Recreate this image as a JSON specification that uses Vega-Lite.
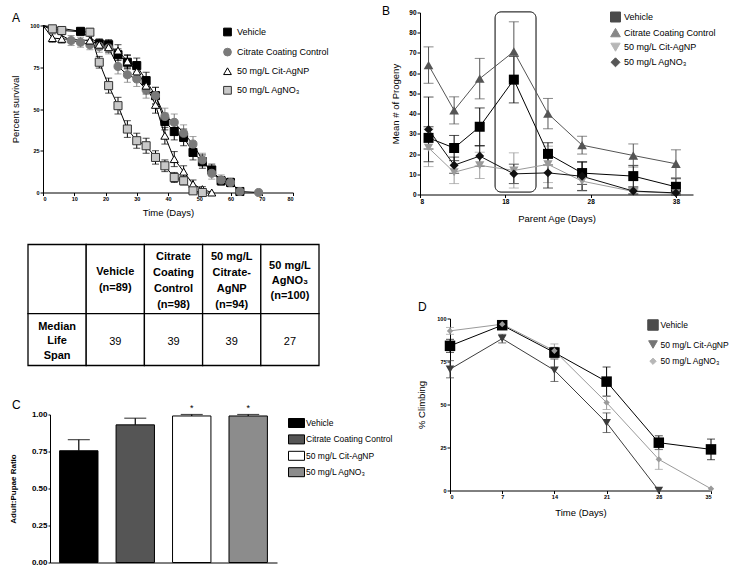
{
  "$schema": "https://vega.github.io/schema/vega-lite/v6.json",
  "background": "white",
  "padding": {"left": 9, "top": 4.5, "right": 0, "bottom": 0},
  "config": {
    "font": "Liberation Sans",
    "view": {"stroke": null},
    "axis": {"domainColor": "black", "tickColor": "black", "labelColor": "black", "titleColor": "black", "labelFont": "Liberation Sans", "titleFont": "Liberation Sans", "labelFontWeight": "bold", "labelFontSize": 5.5, "titleFontSize": 9.5, "titleFontWeight": "normal", "grid": false, "tickSize": 3, "labelPadding": 1, "domainWidth": 1, "tickWidth": 1},
    "legend": {"labelFont": "Liberation Sans", "labelColor": "black", "labelFontSize": 9, "padding": 0, "symbolStrokeWidth": 1},
    "title": {"font": "Liberation Sans", "fontSize": 12, "fontWeight": "normal", "anchor": "start", "frame": "group", "offset": 0, "color": "black"}
  },
  "datasets": {
    "surv": [
      {"s": "Vehicle", "d": 0, "v": 100, "e": 0},
      {"s": "Vehicle", "d": 12, "v": 96.5, "e": 2},
      {"s": "Vehicle", "d": 18, "v": 89, "e": 3},
      {"s": "Vehicle", "d": 21, "v": 88.5, "e": 3},
      {"s": "Vehicle", "d": 24, "v": 82.5, "e": 3.5},
      {"s": "Vehicle", "d": 27, "v": 78, "e": 4},
      {"s": "Vehicle", "d": 30, "v": 76, "e": 4.5},
      {"s": "Vehicle", "d": 33, "v": 67, "e": 5},
      {"s": "Vehicle", "d": 36, "v": 58, "e": 5},
      {"s": "Vehicle", "d": 39, "v": 42.5, "e": 5},
      {"s": "Vehicle", "d": 42, "v": 36.5, "e": 5},
      {"s": "Vehicle", "d": 45, "v": 33, "e": 5},
      {"s": "Vehicle", "d": 48, "v": 24, "e": 4.5},
      {"s": "Vehicle", "d": 51, "v": 18.5, "e": 4},
      {"s": "Vehicle", "d": 54, "v": 13.5, "e": 3.5},
      {"s": "Vehicle", "d": 57, "v": 7, "e": 2.5},
      {"s": "Vehicle", "d": 60, "v": 6, "e": 2.5},
      {"s": "Vehicle", "d": 63, "v": 0.6, "e": 0.5},
      {"s": "Citrate Coating Control", "d": 0, "v": 100, "e": 0},
      {"s": "Citrate Coating Control", "d": 9, "v": 91, "e": 3},
      {"s": "Citrate Coating Control", "d": 12, "v": 90, "e": 3},
      {"s": "Citrate Coating Control", "d": 15, "v": 88.5, "e": 3},
      {"s": "Citrate Coating Control", "d": 18, "v": 87.5, "e": 3.5},
      {"s": "Citrate Coating Control", "d": 21, "v": 86.5, "e": 3.5},
      {"s": "Citrate Coating Control", "d": 24, "v": 75.5, "e": 4.5},
      {"s": "Citrate Coating Control", "d": 27, "v": 70.5, "e": 4.5},
      {"s": "Citrate Coating Control", "d": 30, "v": 68, "e": 4.5},
      {"s": "Citrate Coating Control", "d": 33, "v": 61.5, "e": 5},
      {"s": "Citrate Coating Control", "d": 36, "v": 58, "e": 5},
      {"s": "Citrate Coating Control", "d": 39, "v": 45.5, "e": 5},
      {"s": "Citrate Coating Control", "d": 42, "v": 42, "e": 5},
      {"s": "Citrate Coating Control", "d": 45, "v": 35.5, "e": 5},
      {"s": "Citrate Coating Control", "d": 48, "v": 29, "e": 4.5},
      {"s": "Citrate Coating Control", "d": 51, "v": 19.5, "e": 4},
      {"s": "Citrate Coating Control", "d": 54, "v": 11.5, "e": 3.5},
      {"s": "Citrate Coating Control", "d": 57, "v": 7.5, "e": 3},
      {"s": "Citrate Coating Control", "d": 60, "v": 6, "e": 2.5},
      {"s": "Citrate Coating Control", "d": 63, "v": 0.6, "e": 0.5},
      {"s": "Citrate Coating Control", "d": 69, "v": 0, "e": 0},
      {"s": "50 mg/L Cit-AgNP", "d": 0, "v": 100, "e": 0},
      {"s": "50 mg/L Cit-AgNP", "d": 3, "v": 92.5, "e": 2.5},
      {"s": "50 mg/L Cit-AgNP", "d": 6, "v": 92, "e": 2.5},
      {"s": "50 mg/L Cit-AgNP", "d": 15, "v": 91, "e": 3},
      {"s": "50 mg/L Cit-AgNP", "d": 18, "v": 88.5, "e": 3},
      {"s": "50 mg/L Cit-AgNP", "d": 21, "v": 87, "e": 3},
      {"s": "50 mg/L Cit-AgNP", "d": 24, "v": 85, "e": 3.5},
      {"s": "50 mg/L Cit-AgNP", "d": 27, "v": 78.5, "e": 4},
      {"s": "50 mg/L Cit-AgNP", "d": 30, "v": 72.5, "e": 4.5},
      {"s": "50 mg/L Cit-AgNP", "d": 33, "v": 64, "e": 5},
      {"s": "50 mg/L Cit-AgNP", "d": 36, "v": 52.5, "e": 5},
      {"s": "50 mg/L Cit-AgNP", "d": 39, "v": 34, "e": 5},
      {"s": "50 mg/L Cit-AgNP", "d": 42, "v": 20, "e": 4.5},
      {"s": "50 mg/L Cit-AgNP", "d": 45, "v": 12.5, "e": 3.5},
      {"s": "50 mg/L Cit-AgNP", "d": 48, "v": 5, "e": 2.5},
      {"s": "50 mg/L Cit-AgNP", "d": 51, "v": 2, "e": 1.5},
      {"s": "50 mg/L Cit-AgNP", "d": 54, "v": 0, "e": 0},
      {"s": "50 mg/L AgNO₃", "d": 0, "v": 100, "e": 0},
      {"s": "50 mg/L AgNO₃", "d": 3, "v": 98, "e": 1.5},
      {"s": "50 mg/L AgNO₃", "d": 6, "v": 97, "e": 2},
      {"s": "50 mg/L AgNO₃", "d": 15, "v": 96, "e": 2},
      {"s": "50 mg/L AgNO₃", "d": 18, "v": 78, "e": 3.5},
      {"s": "50 mg/L AgNO₃", "d": 21, "v": 64, "e": 4.5},
      {"s": "50 mg/L AgNO₃", "d": 24, "v": 52, "e": 5},
      {"s": "50 mg/L AgNO₃", "d": 27, "v": 38, "e": 5},
      {"s": "50 mg/L AgNO₃", "d": 30, "v": 31, "e": 4.5},
      {"s": "50 mg/L AgNO₃", "d": 33, "v": 28, "e": 4.5},
      {"s": "50 mg/L AgNO₃", "d": 36, "v": 21, "e": 4},
      {"s": "50 mg/L AgNO₃", "d": 39, "v": 16, "e": 3.5},
      {"s": "50 mg/L AgNO₃", "d": 42, "v": 9, "e": 3},
      {"s": "50 mg/L AgNO₃", "d": 45, "v": 7, "e": 2.5},
      {"s": "50 mg/L AgNO₃", "d": 48, "v": 1, "e": 1},
      {"s": "50 mg/L AgNO₃", "d": 51, "v": 0, "e": 0}
    ],
    "progeny": [
      {"s": "Vehicle", "d": 9, "v": 28, "e": 5.5},
      {"s": "Vehicle", "d": 12, "v": 23, "e": 6.2},
      {"s": "Vehicle", "d": 15, "v": 33.5, "e": 9.3},
      {"s": "Vehicle", "d": 19, "v": 56.8, "e": 11.5},
      {"s": "Vehicle", "d": 23, "v": 20.1, "e": 5.5},
      {"s": "Vehicle", "d": 27, "v": 10.6, "e": 5.6},
      {"s": "Vehicle", "d": 33, "v": 9.1, "e": 5.3},
      {"s": "Vehicle", "d": 38, "v": 3.8, "e": 4},
      {"s": "Citrate Coating Control", "d": 9, "v": 64, "e": 9},
      {"s": "Citrate Coating Control", "d": 12, "v": 41.6, "e": 6.7},
      {"s": "Citrate Coating Control", "d": 15, "v": 57.3, "e": 10},
      {"s": "Citrate Coating Control", "d": 19, "v": 70.7, "e": 14.7},
      {"s": "Citrate Coating Control", "d": 23, "v": 40, "e": 7.5},
      {"s": "Citrate Coating Control", "d": 27, "v": 24.4, "e": 4.4},
      {"s": "Citrate Coating Control", "d": 33, "v": 19.3, "e": 5.7},
      {"s": "Citrate Coating Control", "d": 38, "v": 15.2, "e": 6.9},
      {"s": "50 mg/L Cit-AgNP", "d": 9, "v": 23.1, "e": 9.3},
      {"s": "50 mg/L Cit-AgNP", "d": 12, "v": 11, "e": 5.6},
      {"s": "50 mg/L Cit-AgNP", "d": 15, "v": 14.4, "e": 6.5},
      {"s": "50 mg/L Cit-AgNP", "d": 19, "v": 11.9, "e": 8.7},
      {"s": "50 mg/L Cit-AgNP", "d": 23, "v": 14.9, "e": 9},
      {"s": "50 mg/L Cit-AgNP", "d": 27, "v": 6.6, "e": 4.9},
      {"s": "50 mg/L Cit-AgNP", "d": 33, "v": 1.5, "e": 1},
      {"s": "50 mg/L Cit-AgNP", "d": 38, "v": 0.6, "e": 0.5},
      {"s": "50 mg/L AgNO₃", "d": 9, "v": 32.2, "e": 16},
      {"s": "50 mg/L AgNO₃", "d": 12, "v": 14.5, "e": 4},
      {"s": "50 mg/L AgNO₃", "d": 15, "v": 19, "e": 5},
      {"s": "50 mg/L AgNO₃", "d": 19, "v": 10.2, "e": 4.8},
      {"s": "50 mg/L AgNO₃", "d": 23, "v": 10.7, "e": 7.5},
      {"s": "50 mg/L AgNO₃", "d": 27, "v": 9, "e": 7},
      {"s": "50 mg/L AgNO₃", "d": 33, "v": 1.7, "e": 1.5},
      {"s": "50 mg/L AgNO₃", "d": 38, "v": 0.8, "e": 0.5}
    ],
    "window": [
      {"from": 16.8, "to": 21.6, "lo": 1.2, "hi": 90.3}
    ],
    "climb": [
      {"s": "Vehicle", "d": 0, "v": 84.1, "e": 3.8},
      {"s": "Vehicle", "d": 7, "v": 96.1, "e": 2},
      {"s": "Vehicle", "d": 14, "v": 80.2, "e": 3},
      {"s": "Vehicle", "d": 21, "v": 63.3, "e": 8.5},
      {"s": "Vehicle", "d": 28, "v": 27.8, "e": 4},
      {"s": "Vehicle", "d": 35, "v": 23.9, "e": 6},
      {"s": "50 mg/L Cit-AgNP", "d": 0, "v": 70.5, "e": 5},
      {"s": "50 mg/L Cit-AgNP", "d": 7, "v": 88.3, "e": 2.5},
      {"s": "50 mg/L Cit-AgNP", "d": 14, "v": 69.9, "e": 6.5},
      {"s": "50 mg/L Cit-AgNP", "d": 21, "v": 39.4, "e": 5.7},
      {"s": "50 mg/L Cit-AgNP", "d": 28, "v": 0, "e": 0},
      {"s": "50 mg/L AgNO₃", "d": 0, "v": 92.8, "e": 2},
      {"s": "50 mg/L AgNO₃", "d": 7, "v": 96.7, "e": 2},
      {"s": "50 mg/L AgNO₃", "d": 14, "v": 81.2, "e": 4},
      {"s": "50 mg/L AgNO₃", "d": 21, "v": 51.1, "e": 4},
      {"s": "50 mg/L AgNO₃", "d": 28, "v": 18.1, "e": 5.8},
      {"s": "50 mg/L AgNO₃", "d": 35, "v": 1, "e": 0}
    ],
    "ratio": [
      {"g": "Vehicle", "v": 0.755, "hi": 0.83, "sig": ""},
      {"g": "Citrate Coating Control", "v": 0.93, "hi": 0.975, "sig": ""},
      {"g": "50 mg/L Cit-AgNP", "v": 0.99, "hi": 1.0, "sig": "*"},
      {"g": "50 mg/L AgNO₃", "v": 0.99, "hi": 1.0, "sig": "*"}
    ],
    "tbl": [
      {"row": "head", "col": "label", "text": ""},
      {"row": "head", "col": "vehicle", "text": "Vehicle\n(n=89)"},
      {"row": "head", "col": "citrate", "text": "Citrate\nCoating\nControl\n(n=98)"},
      {"row": "head", "col": "citagnp", "text": "50 mg/L\nCitrate-\nAgNP\n(n=94)"},
      {"row": "head", "col": "agno3", "text": "50 mg/L\nAgNO₃\n(n=100)"},
      {"row": "body", "col": "label", "text": "Median\nLife\nSpan"},
      {"row": "body", "col": "vehicle", "text": "39"},
      {"row": "body", "col": "citrate", "text": "39"},
      {"row": "body", "col": "citagnp", "text": "39"},
      {"row": "body", "col": "agno3", "text": "27"}
    ]
  },
  "bounds": "flush",
  "align": "none",
  "columns": 2,
  "spacing": {"row": 50, "column": 101},
  "resolve": {"scale": {"color": "independent", "fill": "independent", "stroke": "independent", "shape": "independent", "size": "independent"}},
  "concat": [
    {
      "width": 291,
      "height": 180,
      "title": {"text": "A", "dx": -16, "dy": 16.2},
      "data": {"name": "surv"},
      "encoding": {
        "x": {"field": "d", "type": "quantitative", "scale": {"domain": [0, 80], "range": [15, 265], "nice": false}, "axis": {"values": [0, 10, 20, 30, 40, 50, 60, 70, 80], "title": "Time (Days)", "titlePadding": 5}},
        "y": {"field": "v", "type": "quantitative", "scale": {"domain": [0, 100], "range": [180, 13], "nice": false}, "axis": {"values": [0, 25, 50, 75, 100], "title": "Percent survival", "offset": -15, "titlePadding": 9}}
      },
      "layer": [
        {
          "transform": [{"filter": "datum.e > 0 && datum.s == 'Citrate Coating Control'"}],
          "mark": {"type": "errorbar", "ticks": true, "size": 7, "thickness": 1, "color": "#7a7a7a"},
          "encoding": {"yError": {"field": "e"}}
        },
        {
          "transform": [{"filter": "datum.e > 0 && datum.s != 'Citrate Coating Control'"}],
          "mark": {"type": "errorbar", "ticks": true, "size": 7, "thickness": 1, "color": "#000000"},
          "encoding": {"yError": {"field": "e"}}
        },
        {
          "mark": {"type": "line", "color": "black", "strokeWidth": 1},
          "encoding": {"detail": {"field": "s"}}
        },
        {
          "transform": [{"filter": "datum.d > 0"}],
          "mark": {"type": "point", "filled": true, "strokeWidth": 1, "opacity": 1, "size": 65},
          "encoding": {
            "shape": {"field": "s", "type": "nominal", "scale": {"domain": ["Vehicle", "Citrate Coating Control", "50 mg/L Cit-AgNP", "50 mg/L AgNO₃"], "range": ["square", "circle", "triangle-up", "square"]}, "legend": {"orient": "none", "legendX": 195, "legendY": 15, "title": null, "rowPadding": 7.1, "labelOffset": 5, "symbolSize": 60, "labelFontSize": 9}},
            "fill": {"field": "s", "type": "nominal", "scale": {"domain": ["Vehicle", "Citrate Coating Control", "50 mg/L Cit-AgNP", "50 mg/L AgNO₃"], "range": ["#000000", "#7a7a7a", "#ffffff", "#c8c8c8"]}, "legend": {"orient": "none", "legendX": 195, "legendY": 15, "title": null, "rowPadding": 7.1, "labelOffset": 5, "symbolSize": 60, "labelFontSize": 9}},
            "stroke": {"field": "s", "type": "nominal", "scale": {"domain": ["Vehicle", "Citrate Coating Control", "50 mg/L Cit-AgNP", "50 mg/L AgNO₃"], "range": ["#000000", "#7a7a7a", "#000000", "#333333"]}, "legend": {"orient": "none", "legendX": 195, "legendY": 15, "title": null, "rowPadding": 7.1, "labelOffset": 5, "symbolSize": 60, "labelFontSize": 9}}
          }
        }
      ]
    },
    {
      "width": 273,
      "height": 182,
      "title": {"text": "B", "dx": -38, "dy": 12.5},
      "layer": [
        {
          "data": {"name": "window"},
          "mark": {"type": "rect", "fill": "transparent", "stroke": "black", "strokeWidth": 1, "cornerRadius": 6},
          "encoding": {
            "x": {"field": "from", "type": "quantitative", "scale": {"domain": [8, 40], "nice": false}, "axis": {"values": [8, 18, 28, 38], "title": "Parent Age (Days)", "titlePadding": 8, "labelFontSize": 6.5}},
            "x2": {"field": "to"},
            "y": {"field": "lo", "type": "quantitative", "scale": {"domain": [0, 90], "nice": false}, "axis": {"values": [0, 10, 20, 30, 40, 50, 60, 70, 80, 90], "title": "Mean # of Progeny", "titlePadding": 8, "labelFontSize": 6.5}},
            "y2": {"field": "hi"}
          }
        },
        {
          "data": {"name": "progeny"},
          "encoding": {
            "x": {"field": "d", "type": "quantitative", "axis": {"values": [8, 18, 28, 38], "title": "Parent Age (Days)", "titlePadding": 8, "labelFontSize": 6.5}},
            "y": {"field": "v", "type": "quantitative", "axis": {"values": [0, 10, 20, 30, 40, 50, 60, 70, 80, 90], "title": "Mean # of Progeny", "titlePadding": 8, "labelFontSize": 6.5}},
            "color": {"field": "s", "type": "nominal", "scale": {"domain": ["Vehicle", "Citrate Coating Control", "50 mg/L Cit-AgNP", "50 mg/L AgNO₃"], "range": ["#000000", "#555555", "#9a9a9a", "#111111"]}}
          },
          "layer": [
            {
              "mark": {"type": "errorbar", "ticks": true, "size": 10, "thickness": 1},
              "encoding": {"yError": {"field": "e"}}
            },
            {
              "mark": {"type": "line", "strokeWidth": 1}
            },
            {
              "mark": {"type": "point", "filled": true, "opacity": 1},
              "encoding": {
                "color": {"field": "s", "type": "nominal", "scale": {"domain": ["Vehicle", "Citrate Coating Control", "50 mg/L Cit-AgNP", "50 mg/L AgNO₃"], "range": ["#000000", "#555555", "#9a9a9a", "#111111"]}, "legend": {"orient": "none", "legendX": 190, "legendY": -1, "title": null, "rowPadding": 1.6, "labelOffset": 3, "labelFontSize": 9}},
                "shape": {"field": "s", "type": "nominal", "scale": {"domain": ["Vehicle", "Citrate Coating Control", "50 mg/L Cit-AgNP", "50 mg/L AgNO₃"], "range": ["square", "triangle-up", "triangle-down", "diamond"]}, "legend": {"orient": "none", "legendX": 190, "legendY": -1, "title": null, "rowPadding": 1.6, "labelOffset": 3, "labelFontSize": 9}},
                "size": {"field": "s", "type": "nominal", "scale": {"domain": ["Vehicle", "Citrate Coating Control", "50 mg/L Cit-AgNP", "50 mg/L AgNO₃"], "range": [100, 80, 60, 45]}, "legend": {"orient": "none", "legendX": 190, "legendY": -1, "title": null, "rowPadding": 1.6, "labelOffset": 3, "labelFontSize": 9}}
              }
            }
          ]
        }
      ]
    },
    {
      "width": 291,
      "height": 318,
      "title": {"text": "C", "dx": -16, "dy": 172},
      "resolve": {"scale": {"x": "independent", "y": "independent"}},
      "layer": [
        {
          "data": {"name": "ratio"},
          "encoding": {
            "x": {"field": "g", "type": "nominal", "scale": {"domain": ["Vehicle", "Citrate Coating Control", "50 mg/L Cit-AgNP", "50 mg/L AgNO₃"], "range": [22, 249], "paddingInner": 0.32, "paddingOuter": 0.17}, "axis": {"title": null, "labels": false, "ticks": false, "orient": "bottom"}}
          },
          "layer": [
            {
              "mark": {"type": "bar", "stroke": "black", "strokeWidth": 1},
              "encoding": {
                "y": {"field": "v", "type": "quantitative", "scale": {"domain": [0, 1], "range": [318, 170], "nice": false}, "axis": {"orient": "left", "values": [0, 0.25, 0.5, 0.75, 1], "format": ".2f", "title": "Adult:Pupae Ratio", "titleFontWeight": "bold", "titleFontSize": 8, "labelFontSize": 8, "tickSize": 2, "offset": -22, "titlePadding": 14}},
                "fill": {"field": "g", "type": "nominal", "scale": {"domain": ["Vehicle", "Citrate Coating Control", "50 mg/L Cit-AgNP", "50 mg/L AgNO₃"], "range": ["#000000", "#555555", "#ffffff", "#8c8c8c"]}, "legend": {"orient": "none", "legendX": 263, "legendY": 173, "title": null, "rowPadding": 3.4, "labelOffset": 4, "symbolSize": 100, "symbolType": "M-1.6,-0.9H1.6V0.9H-1.6Z", "symbolStrokeColor": "black", "symbolStrokeWidth": 1, "labelFontSize": 8.5}}
              }
            },
            {
              "mark": {"type": "rule", "strokeWidth": 1.2, "color": "black"},
              "encoding": {"y": {"field": "v", "type": "quantitative"}, "y2": {"field": "hi"}}
            },
            {
              "mark": {"type": "tick", "thickness": 1.2, "size": 22, "color": "black"},
              "encoding": {"y": {"field": "hi", "type": "quantitative"}}
            },
            {
              "transform": [{"filter": "datum.sig != ''"}],
              "mark": {"type": "text", "fontSize": 9, "dy": -7, "baseline": "middle", "color": "black"},
              "encoding": {"y": {"field": "hi", "type": "quantitative"}, "text": {"field": "sig"}}
            }
          ]
        },
        {
          "data": {"name": "tbl"},
          "encoding": {
            "x": {"field": "col", "type": "nominal", "scale": {"domain": ["label", "vehicle", "citrate", "citagnp", "agno3"], "range": [0, 291], "paddingInner": 0, "paddingOuter": 0}, "axis": null}
          },
          "layer": [
            {
              "transform": [{"filter": "datum.row == 'head'"}],
              "mark": {"type": "rect", "fill": "white", "stroke": "black", "strokeWidth": 1.3},
              "encoding": {"y": {"datum": 0, "type": "quantitative", "scale": {"domain": [0, 7], "range": [0, 121], "nice": false}, "axis": null}, "y2": {"datum": 4}}
            },
            {
              "transform": [{"filter": "datum.row == 'body'"}],
              "mark": {"type": "rect", "fill": "white", "stroke": "black", "strokeWidth": 1.3},
              "encoding": {"y": {"datum": 4, "type": "quantitative"}, "y2": {"datum": 7}}
            },
            {
              "transform": [{"filter": "datum.row == 'head' && datum.col == 'vehicle'"}],
              "mark": {"type": "text", "fontWeight": "bold", "fontSize": 11, "lineBreak": "\n", "lineHeight": 16, "baseline": "middle", "align": "center", "color": "black", "dy": -6.6},
              "encoding": {"y": {"datum": 2, "type": "quantitative"}, "text": {"field": "text"}}
            },
            {
              "transform": [{"filter": "datum.row == 'head' && (datum.col == 'citrate' || datum.col == 'citagnp')"}],
              "mark": {"type": "text", "fontWeight": "bold", "fontSize": 11, "lineBreak": "\n", "lineHeight": 15.7, "baseline": "middle", "align": "center", "color": "black", "dy": -21.6},
              "encoding": {"y": {"datum": 2, "type": "quantitative"}, "text": {"field": "text"}}
            },
            {
              "transform": [{"filter": "datum.row == 'head' && datum.col == 'agno3'"}],
              "mark": {"type": "text", "fontWeight": "bold", "fontSize": 11, "lineBreak": "\n", "lineHeight": 15, "baseline": "middle", "align": "center", "color": "black", "dy": -12.6},
              "encoding": {"y": {"datum": 2, "type": "quantitative"}, "text": {"field": "text"}}
            },
            {
              "transform": [{"filter": "datum.row == 'body' && datum.col == 'label'"}],
              "mark": {"type": "text", "fontWeight": "bold", "fontSize": 11, "lineBreak": "\n", "lineHeight": 14.5, "baseline": "middle", "align": "center", "color": "black", "dy": -13},
              "encoding": {"y": {"datum": 5.5, "type": "quantitative"}, "text": {"field": "text"}}
            },
            {
              "transform": [{"filter": "datum.row == 'body' && datum.col != 'label'"}],
              "mark": {"type": "text", "fontWeight": "normal", "fontSize": 11, "baseline": "middle", "align": "center", "color": "black", "dy": 2},
              "encoding": {"y": {"datum": 5.5, "type": "quantitative"}, "text": {"field": "text"}}
            }
          ]
        }
      ]
    },
    {
      "width": 291,
      "height": 246,
      "title": {"text": "D", "dx": -2, "dy": 73},
      "data": {"name": "climb"},
      "encoding": {
        "x": {"field": "d", "type": "quantitative", "scale": {"domain": [0, 35], "range": [30, 291], "nice": false}, "axis": {"values": [0, 7, 14, 21, 28, 35], "title": "Time (Days)", "titlePadding": 7}},
        "y": {"field": "v", "type": "quantitative", "scale": {"domain": [0, 100], "range": [246, 74], "nice": false}, "axis": {"values": [0, 25, 50, 75, 100], "title": "% Climbing", "titlePadding": 10, "offset": -30}},
        "color": {"field": "s", "type": "nominal", "scale": {"domain": ["Vehicle", "50 mg/L Cit-AgNP", "50 mg/L AgNO₃"], "range": ["#000000", "#3c3c3c", "#9a9a9a"]}}
      },
      "layer": [
        {
          "transform": [{"filter": "datum.e > 0"}],
          "mark": {"type": "errorbar", "ticks": true, "size": 8, "thickness": 1},
          "encoding": {"yError": {"field": "e"}}
        },
        {
          "mark": {"type": "line", "strokeWidth": 1}
        },
        {
          "mark": {"type": "point", "filled": true, "opacity": 1},
          "encoding": {
            "color": {"field": "s", "type": "nominal", "scale": {"domain": ["Vehicle", "50 mg/L Cit-AgNP", "50 mg/L AgNO₃"], "range": ["#000000", "#3c3c3c", "#9a9a9a"]}, "legend": {"orient": "none", "legendX": 227, "legendY": 74.5, "title": null, "rowPadding": 5.5, "labelOffset": 1.5, "labelFontSize": 8.5}},
            "shape": {"field": "s", "type": "nominal", "scale": {"domain": ["Vehicle", "50 mg/L Cit-AgNP", "50 mg/L AgNO₃"], "range": ["square", "triangle-down", "diamond"]}, "legend": {"orient": "none", "legendX": 227, "legendY": 74.5, "title": null, "rowPadding": 5.5, "labelOffset": 1.5, "labelFontSize": 8.5}},
            "size": {"field": "s", "type": "nominal", "scale": {"domain": ["Vehicle", "50 mg/L Cit-AgNP", "50 mg/L AgNO₃"], "range": [110, 40, 55]}, "legend": {"orient": "none", "legendX": 227, "legendY": 74.5, "title": null, "rowPadding": 5.5, "labelOffset": 1.5, "labelFontSize": 8.5}}
          }
        }
      ]
    }
  ]
}
